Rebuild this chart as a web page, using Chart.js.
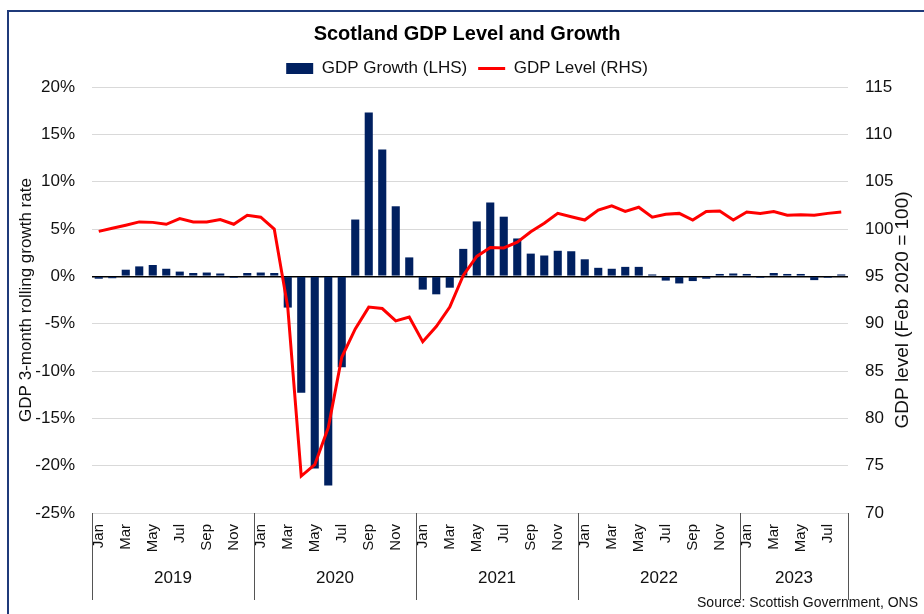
<!DOCTYPE html>
<html>
<head>
<meta charset="utf-8">
<title>Scotland GDP Level and Growth</title>
<script src="https://cdn.jsdelivr.net/npm/chart.js@4.4.0/dist/chart.umd.min.js"></script>
<style>
  body { margin: 0; background: #fff; }
  .frame {
    position: absolute; left: 7px; top: 10px; width: 960px; height: 640px;
    border-left: 2px solid #1f3a7a; border-top: 2px solid #1f3a7a;
  }
  .wrap { position: absolute; left: 0; top: 0; width: 924px; height: 614px; }
</style>
</head>
<body>
<div class="frame"></div>
<div class="wrap"><canvas id="gdpChart" width="924" height="614"></canvas></div>
<script>
// monthly, Jan 2019 - Aug 2023
const months = [
  'Jan','Feb','Mar','Apr','May','Jun','Jul','Aug','Sep','Oct','Nov','Dec',
  'Jan','Feb','Mar','Apr','May','Jun','Jul','Aug','Sep','Oct','Nov','Dec',
  'Jan','Feb','Mar','Apr','May','Jun','Jul','Aug','Sep','Oct','Nov','Dec',
  'Jan','Feb','Mar','Apr','May','Jun','Jul','Aug','Sep','Oct','Nov','Dec',
  'Jan','Feb','Mar','Apr','May','Jun','Jul','Aug'
];
const years = ['2019', '2020', '2021', '2022', '2023'];

// 3-month rolling growth, %
const growth = [
  -0.25, -0.2, 0.7, 1.05, 1.2, 0.8, 0.5, 0.35, 0.4, 0.3, -0.15, 0.35,
  0.4, 0.35, -3.3, -12.3, -20.3, -22.1, -9.6, 6.0, 17.3, 13.4, 7.4, 2.0,
  -1.4, -1.9, -1.2, 2.9, 5.8, 7.8, 6.3, 4.0, 2.4, 2.2, 2.7, 2.65,
  1.8, 0.9, 0.8, 1.0, 1.0, 0.2, -0.45, -0.75, -0.5, -0.25, 0.25, 0.3,
  0.25, -0.15, 0.35, 0.25, 0.25, -0.4, -0.15, 0.2
];

// GDP level index, Feb 2020 = 100
const level = [
  99.75, 100.07, 100.4, 100.75, 100.7, 100.5, 101.1, 100.75, 100.75, 101.0, 100.5, 101.45,
  101.25, 100.0, 91.75, 73.9, 75.1, 79.0, 86.45, 89.45, 91.75, 91.6, 90.3, 90.7,
  88.1, 89.7, 91.75, 95.1, 97.1, 98.05, 98.0, 98.6, 99.7, 100.6, 101.65, 101.3,
  100.95, 102.0, 102.45, 101.85, 102.3, 101.25, 101.55, 101.65, 100.95, 101.85, 101.9, 100.95,
  101.8, 101.65, 101.85, 101.45, 101.5, 101.45, 101.65, 101.8
];

const fontFamily = "'Liberation Sans', Arial, sans-serif";
Chart.defaults.font.family = fontFamily;
Chart.defaults.color = '#111';

// year separators + year labels under the month ticks, right axis title, source note
const extras = {
  id: 'extras',
  afterDraw(chart) {
    const { ctx, chartArea, scales } = chart;
    const x = scales.x;
    const half = (x.getPixelForValue(1) - x.getPixelForValue(0)) / 2;
    const starts = [];
    months.forEach((m, i) => { if (m === 'Jan') starts.push(i); });

    ctx.save();
    ctx.strokeStyle = '#555';
    ctx.lineWidth = 1;
    ctx.fillStyle = '#111';
    ctx.font = '17px ' + fontFamily;
    ctx.textAlign = 'center';
    ctx.textBaseline = 'middle';
    starts.forEach((s, k) => {
      const e = k + 1 < starts.length ? starts[k + 1] - 1 : months.length - 1;
      const left = x.getPixelForValue(s) - half;
      const right = x.getPixelForValue(e) + half;
      ctx.beginPath();
      ctx.moveTo(Math.round(left) + 0.5, chartArea.bottom);
      ctx.lineTo(Math.round(left) + 0.5, 600);
      ctx.stroke();
      if (k === starts.length - 1) {
        ctx.beginPath();
        ctx.moveTo(Math.round(right) + 0.5, chartArea.bottom);
        ctx.lineTo(Math.round(right) + 0.5, 600);
        ctx.stroke();
      }
      ctx.fillText(years[k], (left + right) / 2, 578);
    });

    // right axis title, reading bottom to top
    ctx.save();
    ctx.font = '19px ' + fontFamily;
    ctx.translate(903, 310);
    ctx.rotate(-Math.PI / 2);
    ctx.fillText('GDP level (Feb 2020 = 100)', 0, 0);
    ctx.restore();

    ctx.font = '14px ' + fontFamily;
    ctx.textAlign = 'right';
    ctx.fillText('Source: Scottish Government, ONS', 918, 603);
    ctx.restore();
  }
};

new Chart(document.getElementById('gdpChart'), {
  data: {
    labels: months,
    datasets: [{
      type: 'bar',
      label: 'GDP Growth (LHS)',
      data: growth,
      yAxisID: 'y',
      backgroundColor: '#002060',
      borderWidth: 0,
      barPercentage: 0.6,
      categoryPercentage: 1,
      order: 1
    }, {
      type: 'line',
      label: 'GDP Level (RHS)',
      data: level,
      yAxisID: 'y2',
      borderColor: '#ff0000',
      backgroundColor: '#ff0000',
      borderWidth: 3,
      pointRadius: 0,
      tension: 0,
      order: 0
    }]
  },
  options: {
    responsive: false,
    animation: false,
    layout: { padding: { left: 10, right: 0, top: 0, bottom: 0 } },
    plugins: {
      title: {
        display: true,
        text: 'Scotland GDP Level and Growth',
        color: '#000',
        font: { size: 20, weight: 'bold' },
        padding: { top: 22, bottom: 3 }
      },
      legend: {
        position: 'top',
        labels: {
          usePointStyle: true,
          pointStyleWidth: 27,
          boxHeight: 11,
          padding: 11,
          color: '#111',
          font: { size: 17 },
          sort: (a, b) => a.datasetIndex - b.datasetIndex,
          generateLabels(chart) {
            const items = Chart.defaults.plugins.legend.labels.generateLabels(chart);
            items.forEach(it => { it.pointStyle = it.datasetIndex === 0 ? 'rect' : 'line'; });
            return items;
          }
        }
      },
      tooltip: { enabled: false }
    },
    scales: {
      x: {
        offset: true,
        grid: { display: false, drawTicks: false },
        border: { display: true, color: '#d9d9d9' },
        ticks: {
          autoSkip: false,
          minRotation: 90,
          maxRotation: 90,
          padding: 11,
          font: { size: 15 },
          color: '#111',
          callback: (v, i) => (i % 2 === 0 ? months[i] : '')
        },
        afterFit(s) { s.height = 101; }
      },
      y: {
        position: 'left',
        min: -25,
        max: 20,
        grid: {
          drawTicks: false,
          color: c => (c.tick.value === 0 ? '#000' : '#d9d9d9'),
          lineWidth: c => (c.tick.value === 0 ? 1.5 : 1)
        },
        border: { display: false },
        ticks: {
          stepSize: 5,
          padding: 17,
          font: { size: 17 },
          color: '#111',
          callback: v => v + '%'
        },
        title: {
          display: true,
          text: 'GDP 3-month rolling growth rate',
          color: '#111',
          font: { size: 17 },
          padding: { top: 6, bottom: 0 }
        },
        afterFit(s) { s.width = 82; }
      },
      y2: {
        position: 'right',
        min: 70,
        max: 115,
        grid: { display: false, drawTicks: false },
        border: { display: false },
        ticks: {
          stepSize: 5,
          padding: 17,
          font: { size: 17 },
          color: '#111'
        },
        afterFit(s) { s.width = 76; }
      }
    }
  },
  plugins: [extras]
});
</script>
</body>
</html>
